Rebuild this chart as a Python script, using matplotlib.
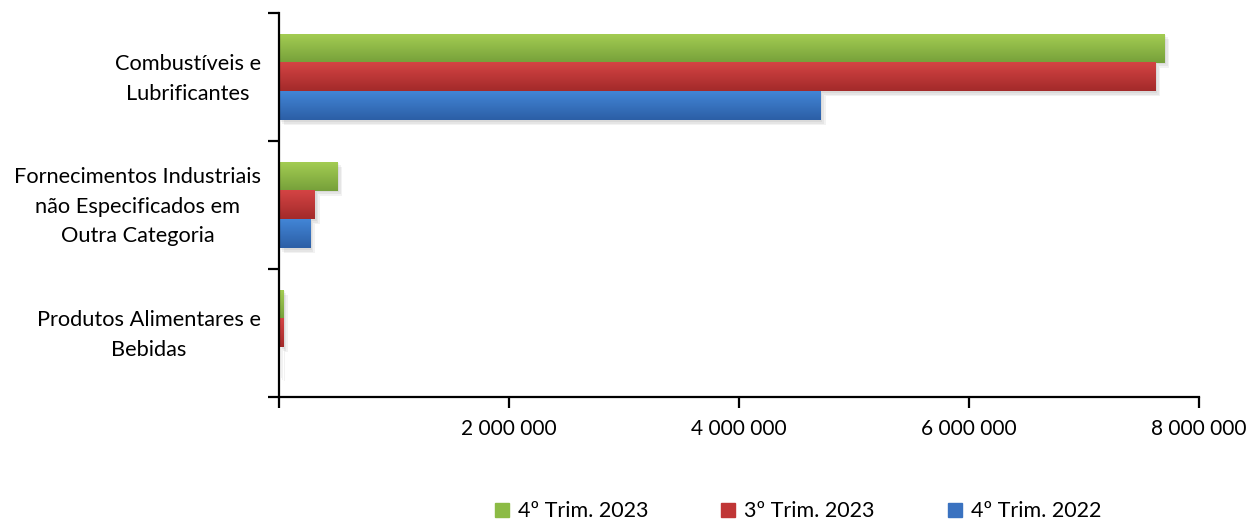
import numpy as np
import matplotlib
matplotlib.use("Agg")
import matplotlib.pyplot as plt
from matplotlib.transforms import ScaledTranslation
from matplotlib.lines import Line2D
from matplotlib.colors import LinearSegmentedColormap

plt.rcParams['font.family'] = ['Lato', 'DejaVu Sans']

# data
categories = ["Produtos Alimentares e\nBebidas",
              "Fornecimentos Industriais\nnão Especificados em\nOutra Categoria",
              "Combustíveis e\nLubrificantes"]
series_names = ["4º Trim. 2023", "3º Trim. 2023", "4º Trim. 2022"]
trim4_2023 = [35000, 507000, 7700000]
trim3_2023 = [35000, 313000, 7620000]
trim4_2022 = [8000, 270000, 4710000]
xticks = [0, 2000000, 4000000, 6000000, 8000000]
xticklabels = ["", "2 000 000", "4 000 000", "6 000 000", "8 000 000"]

# (top colour, bottom colour)
grads = [("#a3cc52", "#76a03a"), ("#d44444", "#a32a2a"), ("#4285d6", "#2c5fa6")]
flat = ["#8cbb45", "#c03636", "#3a72c0"]

fig = plt.figure(figsize=(12.48, 5.22), dpi=100)
ax = fig.add_axes([0.2236, 0.2395, 0.7371, 0.7356])

ypos = np.arange(len(categories))
h = 0.225
offsets = [h, 0, -h]
allvals = [trim4_2023, trim3_2023, trim4_2022]

for vals, off, (c1, c2), fc in zip(allvals, offsets, grads, flat):
    # soft shadow, a few faint layers
    for k in range(1, 4):
        tr = ax.transData + ScaledTranslation(k * 1.2 / 72, -k * 1.2 / 72,
                                              fig.dpi_scale_trans)
        ax.barh(ypos + off, vals, height=h, color="#000000", alpha=0.05,
                transform=tr, zorder=1)
    bars = ax.barh(ypos + off, vals, height=h, color=fc, zorder=2)
    cmap = LinearSegmentedColormap.from_list("g", [c2, c1])
    grad = np.linspace(0, 1, 64).reshape(-1, 1)
    for b in bars:
        x0, y0 = b.get_x(), b.get_y()
        ax.imshow(grad, cmap=cmap, aspect="auto", origin="lower",
                  extent=[x0, x0 + b.get_width(), y0, y0 + b.get_height()],
                  zorder=3, interpolation="bicubic")

ax.set_xlim(0, 8000000)
ax.set_ylim(-0.5, 2.5)

for s in ["top", "right"]:
    ax.spines[s].set_visible(False)
for s in ["left", "bottom"]:
    ax.spines[s].set_linewidth(1.6)
    ax.spines[s].set_zorder(5)

ax.set_xticks(xticks)
ax.set_xticklabels(xticklabels, fontsize=15)
ax.tick_params(axis="x", direction="out", length=8, width=1.6, pad=8)

ax.set_yticks([-0.5, 0.5, 1.5, 2.5])
ax.set_yticklabels([])
ax.set_yticks(ypos, minor=True)
ax.set_yticklabels(categories, minor=True, fontsize=15.7, ha="right",
                   multialignment="center", linespacing=1.6)
ax.tick_params(axis="y", which="major", direction="out", length=8, width=1.6)
ax.tick_params(axis="y", which="minor", length=0, pad=13)
# nudge the category labels up a little
for lab in ax.get_yticklabels(minor=True):
    lab.set_transform(lab.get_transform() +
                      ScaledTranslation(0, 0.05, fig.dpi_scale_trans))

handles = [Line2D([], [], marker="s", linestyle="none", markersize=10,
                  markerfacecolor=c, markeredgecolor=c) for c in flat]
fig.legend(handles, series_names, loc="center", bbox_to_anchor=(0.638, 0.021),
           ncol=3, frameon=False, fontsize=15.5, handletextpad=0.25,
           columnspacing=3.2, handlelength=1.0)

fig.savefig("out.png", dpi=100)
